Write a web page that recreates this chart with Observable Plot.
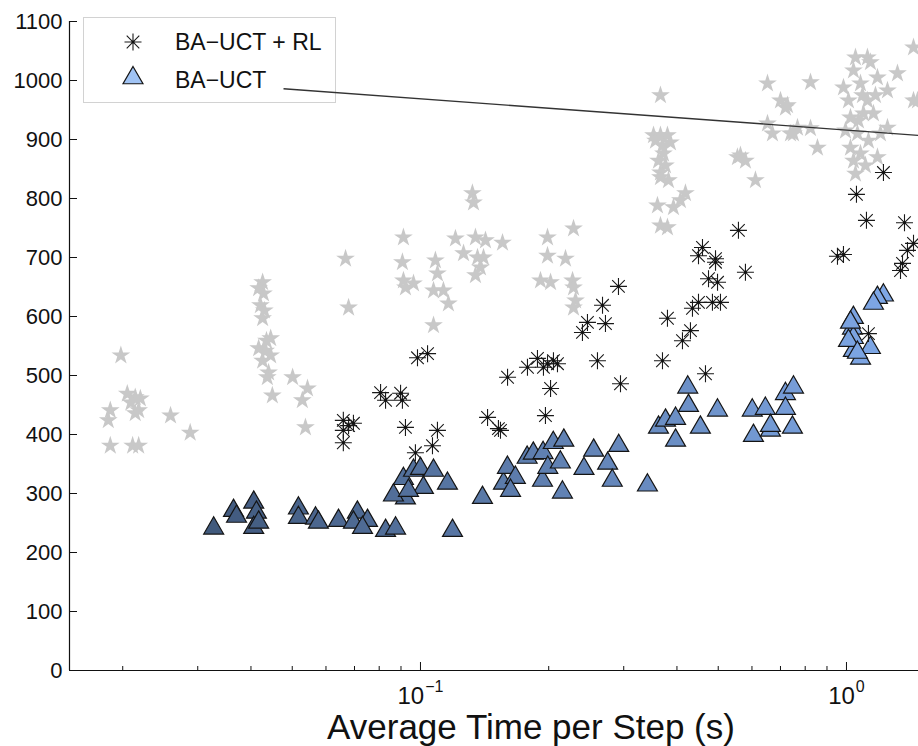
<!DOCTYPE html>
<html><head><meta charset="utf-8">
<script src="https://cdn.jsdelivr.net/npm/d3@7"></script>
<script src="https://cdn.jsdelivr.net/npm/@observablehq/plot@0.6"></script>
<style>
html,body{margin:0;padding:0;background:#fff;}
#chart{position:relative;width:918px;height:746px;overflow:hidden;}
</style></head><body><div id="chart"></div>
<script>
// ---- data ----
const starX = [0.0198,0.0205,0.0214,0.0220,0.0187,0.0185,0.0214,0.0218,0.0259,0.0288,0.0187,0.0211,0.0218,0.0209,
  0.0426,0.0428,0.0421,0.0426,0.0430,0.0417,0.0445,0.0433,0.0426,0.0440,0.0437,0.0435,0.0417,0.0445,0.0449,0.0501,0.0543,0.0528,0.0537,0.0667,0.0678,
  0.0912,0.0907,0.0912,0.0922,0.0963,0.1084,0.1096,0.1073,0.1132,0.1163,0.1073,0.1208,0.1262,0.1346,0.1421,0.1361,0.1406,0.1383,0.1346,0.1558,0.1324,0.1332,
  0.1987,0.2287,0.1987,0.2190,0.1913,0.2020,0.2275,0.2287,0.2312,0.2287,
  0.3659,0.3524,0.3659,0.3800,0.3862,0.3719,0.3659,0.3659,0.3759,0.4188,0.3600,0.3925,0.4076,0.3659,0.3800,0.3562,0.3699,0.3620,0.3821,
  0.5547,0.5638,0.5792,0.6114,0.6525,0.8233,0.7000,0.7191,0.6525,0.6703,0.7388,0.7674,0.8233,0.8549,0.7270,0.7509,
  1.1201,1.1384,1.0386,0.9839,1.0786,1.1823,1.2481,1.1201,1.0219,1.1570,1.2481,1.0613,1.2017,1.0219,1.0786,1.1823,1.0499,1.3174,1.4367,1.4367,1.0499,1.0962,1.4681,1.0109,1.0670,1.1261,0.9946,1.0903,1.1697,1.0386,1.1080];
const starY = [534,469,463,461,441,424,436,441,432,403,381,381,381,454,
  658,639,619,597,610,648,563,542,525,505,497,559,546,534,466,497,478,458,412,698,615,
  734,692,661,649,656,695,673,644,644,622,585,732,707,734,729,700,700,683,670,725,809,793,
  734,749,703,698,661,658,661,649,627,615,
  975,907,907,907,895,876,844,836,856,809,788,785,797,754,751,898,890,864,831,
  870,873,864,831,995,997,966,954,927,910,910,920,919,886,958,910,
  1039,1031,1017,988,995,1005,983,966,937,944,920,910,910,886,876,870,842,1012,1056,966,1039,944,966,966,932,898,915,975,975,864,856];

const rlX = [0.0659,0.0696,0.0659,0.0659,0.0678,0.0806,0.0828,0.0898,0.0907,0.0922,0.0973,0.0984,0.1039,0.1096,0.1067,
  0.1437,0.1524,0.1541,0.1601,0.1783,0.1882,0.1944,0.1987,0.2052,0.2097,0.2020,0.1965,
  0.2400,0.2466,0.2603,0.2675,0.2718,0.2916,0.2948,
  0.3699,0.3800,0.4121,0.4303,0.4350,0.4494,0.4846,0.5061,0.4744,0.4981,0.4592,0.4494,0.4927,0.4927,0.5577,0.5792,0.4667,
  0.9525,0.9839,1.0555,1.1141,1.2213,1.1261,1.3392,1.3537,1.3905,1.4367,1.3684];
const rlY = [424,419,407,386,415,471,458,470,458,412,369,530,537,407,381,
  429,410,407,497,514,529,514,520,525,520,478,432,
  573,590,525,619,588,651,486,
  525,597,559,576,614,624,624,624,664,658,717,703,698,692,746,675,503,
  702,705,807,763,844,571,678,690,712,724,759];

const baX = [0.0327,0.0364,0.0370,0.0406,0.0412,0.0406,0.0417,0.0517,0.0517,0.0567,0.0576,0.0642,0.0711,0.0696,0.0751,0.0731,0.0828,0.0874,
  0.0912,0.0922,0.0864,0.0963,0.1000,0.1073,0.1016,0.1157,0.0937,0.1189,
  0.1398,0.1566,0.1600,0.1670,0.1780,0.1840,0.1940,0.2050,0.2170,0.1934,0.1990,0.2130,0.2154,0.1627,
  0.2420,0.2550,0.2750,0.2920,0.2820,0.3410,
  0.3620,0.3760,0.3970,0.4240,0.4257,0.3970,0.4540,0.4980,
  0.6010,0.6450,0.6048,0.6630,0.7190,0.7510,0.7190,0.7467,0.6630,
  1.0380,1.0330,1.0380,1.0380,1.0790,1.1380,1.2210,1.1820,1.1570,1.0110,1.0220,1.0610];
const baY = [241,271,261,285,268,242,251,275,259,258,251,254,268,251,254,242,237,241,
  325,292,297,339,342,339,310,317,305,237,
  293,317,344,327,361,368,369,386,390,322,344,353,302,305,
  342,373,351,381,322,314,
  412,424,427,480,449,390,412,441,
  441,444,398,407,469,480,444,412,415,
  598,580,564,542,529,547,636,632,622,559,590,539];

const pointerX = [0.0477, 1.476];
const pointerY = [986, 907];

const yTicks = [0,100,200,300,400,500,600,700,800,900,1000,1100];
const xMajorTicks = [0.1, 1];
const xMinorTicks = [0.02,0.03,0.04,0.05,0.06,0.07,0.08,0.09,0.2,0.3,0.4,0.5,0.6,0.7,0.8,0.9];
const seriesNames = ["BA\u2212UCT + RL", "BA\u2212UCT"];
const xLabel = ["Average Time per Step (s)"];

// ---- tables ----
const stars = starX.map((x, i) => ({x, y: starY[i]}));
const rl = rlX.map((x, i) => ({x, y: rlY[i]}));
const ba = baX.map((x, i) => ({x, y: baY[i]}));
const pointerSeg = [{x1: pointerX[0], y1: pointerY[0], x2: pointerX[1], y2: pointerY[1]}];

const asterisk = {
  draw(ctx, size) {
    const r = Math.sqrt(size / Math.PI), d = r * 0.74;
    ctx.moveTo(-r, 0); ctx.lineTo(r, 0);
    ctx.moveTo(0, -r); ctx.lineTo(0, r);
    ctx.moveTo(-d, -d); ctx.lineTo(d, d);
    ctx.moveTo(-d, d); ctx.lineTo(d, -d);
  }
};

const FONT = "'Liberation Sans', Arial, Helvetica, sans-serif";

const svg = Plot.plot({
  width: 918,
  height: 746,
  marginLeft: 69,
  marginRight: 0,
  marginTop: 21,
  marginBottom: 76,
  style: {fontFamily: FONT, color: "#111", background: "#fff", overflow: "hidden"},
  x: {type: "log", domain: [0.015, 1.476], axis: null},
  y: {domain: [0, 1100], axis: null},
  color: {type: "log", domain: [0.03, 1.25], range: ["#40587b", "#7ea7e6"], clamp: true},
  marks: [
    Plot.dot(stars, {x: "x", y: "y", symbol: "star", r: 5.9, fill: "#c8c8c8", stroke: "none"}),
    Plot.dot(ba, {x: "x", y: "y", symbol: "triangle", r: 7.4, fill: "x", stroke: "#141414", strokeWidth: 1.2}),
    Plot.dot(rl, {x: "x", y: "y", symbol: asterisk, r: 8.5, fill: "none", stroke: "#1a1a1a", strokeWidth: 1.1}),
    Plot.dot(rl, {x: "x", y: "y", r: 1.3, fill: "#111", stroke: "none"}),
    Plot.ruleY([0], {stroke: "#111", strokeWidth: 1.2}),
    Plot.ruleX([0.015], {stroke: "#111", strokeWidth: 1.2}),
    Plot.axisY({ticks: yTicks, anchor: "left", tickSize: 0, tickPadding: 7, fontSize: 22, label: null, tickFormat: d => String(d)}),
    Plot.axisY({ticks: yTicks, anchor: "left", tickSize: 8, dx: 8, fill: "none", label: null, stroke: "#111"}),
    Plot.axisX({ticks: xMajorTicks, anchor: "bottom", tickSize: 8, dy: -8, fill: "none", label: null, stroke: "#111"}),
    Plot.axisX({ticks: xMinorTicks, anchor: "bottom", tickSize: 4, dy: -4, fill: "none", label: null, stroke: "#111"}),
    Plot.axisX({ticks: xMajorTicks, anchor: "bottom", tickSize: 0, tickPadding: 16, fontSize: 24, label: null,
      tickFormat: d => "10^" + String(Math.round(Math.log10(d))).replace("-", "\u2212")}),
    Plot.text(xLabel, {frameAnchor: "bottom", dx: 37, dy: 68, fontSize: 35, fill: "#111"}),
    Plot.link(pointerSeg, {x1: "x1", y1: "y1", x2: "x2", y2: "y2", stroke: "#333", strokeWidth: 1.4})
  ]
});

// the pointer link is the last mark drawn; remember it before adding the legend
const pointerNode = svg.lastElementChild;

// superscript exponents on the x tick labels
d3.select(svg).selectAll('g[aria-label="x-axis tick label"] text').each(function() {
  const t = this.textContent;
  if (t.indexOf("^") < 0) return;
  const [b, e] = t.split("^");
  this.textContent = b;
  d3.select(this).attr("font-size", 24);
  d3.select(this).append("tspan").attr("dy", "-12").attr("dx", "1").attr("font-size", 16).text(e);
});

// legend (drawn under the pointer line)
const lgNode = document.createElementNS("http://www.w3.org/2000/svg", "g");
if (pointerNode && pointerNode.parentNode === svg) svg.insertBefore(lgNode, pointerNode);
else svg.appendChild(lgNode);
const lg = d3.select(lgNode).attr("font-family", FONT).attr("text-anchor", "start");
lg.append("rect").attr("x", 83.5).attr("y", 17.5).attr("width", 252).attr("height", 85)
  .attr("fill", "#fff").attr("stroke", "#d2d2d2").attr("stroke-width", 1);
lg.append("path").attr("transform", "translate(133,42)")
  .attr("d", d3.symbol(asterisk, Math.PI * 8.5 * 8.5)())
  .attr("fill", "none").attr("stroke", "#1a1a1a").attr("stroke-width", 1.1);
lg.append("circle").attr("cx", 133).attr("cy", 42).attr("r", 1.3).attr("fill", "#111");
lg.append("path").attr("transform", "translate(133,78)")
  .attr("d", d3.symbol(d3.symbolTriangle, Math.PI * 7.4 * 7.4)())
  .attr("fill", "#a0c3f4").attr("stroke", "#141414").attr("stroke-width", 1.2);
lg.append("text").attr("x", 175).attr("y", 50).attr("font-size", 23).attr("fill", "#111")
  .attr("text-anchor", "start").text(seriesNames[0]);
lg.append("text").attr("x", 175).attr("y", 88).attr("font-size", 23).attr("fill", "#111")
  .attr("text-anchor", "start").text(seriesNames[1]);

document.getElementById("chart").appendChild(svg);
</script>
</body></html>
